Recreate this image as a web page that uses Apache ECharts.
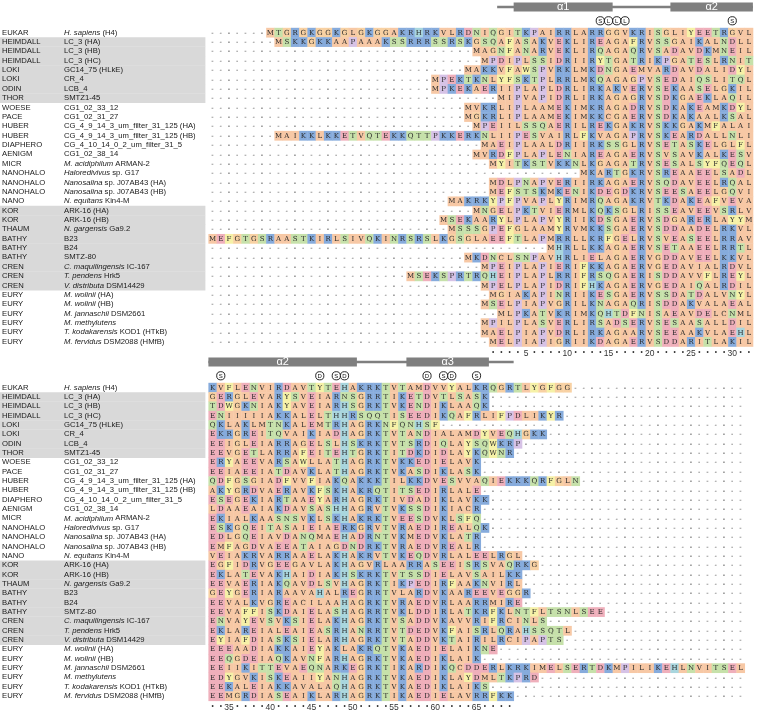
<!DOCTYPE html>
<html><head><meta charset="utf-8">
<script src="https://cdn.jsdelivr.net/npm/echarts@6/dist/echarts.min.js"></script>
<style>html,body{margin:0;padding:0;background:#fff}#c{width:758px;height:713px}</style>
</head><body><div id="c"></div>
<script>
// ---------------- data ----------------
const groups = ['EUKAR','HEIMDALL','HEIMDALL','HEIMDALL','LOKI','LOKI','ODIN','THOR','WOESE','PACE','HUBER','HUBER','DIAPHERO','AENIGM','MICR','NANOHALO','NANOHALO','NANOHALO','NANO','KOR','KOR','THAUM','BATHY','BATHY','BATHY','CREN','CREN','CREN','EURY','EURY','EURY','EURY','EURY','EURY'];
const speciesItalic = ['H. sapiens','','','','','','','','','','','','','','M. acidiphilum','Haloredivivus','Nanosalina','Nanosalina','N. equitans','','','N. gargensis','','','','C. maquilingensis','T. pendens','V. distributa','M. wolinii','M. wolinii','M. jannaschii','M. methylutens','T. kodakarensis','M. fervidus'];
const speciesRest = [' (H4)','LC_3 (HA)','LC_3 (HB)','LC_3 (HC)','GC14_75 (HLkE)','CR_4','LCB_4','SMTZ1-45','CG1_02_33_12','CG1_02_31_27','CG_4_9_14_3_um_filter_31_125 (HA)','CG_4_9_14_3_um_filter_31_125 (HB)','CG_4_10_14_0_2_um_filter_31_5','CG1_02_38_14',' ARMAN-2',' sp. G17',' sp. J07AB43 (HA)',' sp. J07AB43 (HB)',' Kin4-M','ARK-16 (HA)','ARK-16 (HB)',' Ga9.2','B23','B24','SMTZ-80',' IC-167',' Hrk5',' DSM14429',' (HA)',' (HB)',' DSM2661','',' KOD1 (HTkB)',' DSM2088 (HMfB)'];
const grayRows = [1,2,3,4,5,6,7,19,20,21,22,23,24,25,26,27];

// top block: sequences right-aligned to the block end (alignment columns -33 .. 32)
const topSeqs = [
'MTGRGKGGKGLGKGGAKRHRKVLRDNIQGITKPAIRRLARRGGVKRISGLIYEETRGVL',
'MSKKGKKAAPAAAKSSRRRSSRSKGSQAFASAKVEKLIREAGAFRVSSGAIKALNDLL',
'MAGNFANARVEKLIRQAGAQRVSADAVDKMNEIL',
'MPDIPLSSIDRIIRYTGATRIKPGATESLRNIT',
'MAKKVFAWSPVRKLMKDNGAEMVARDAVDALIDYL',
'MPEKTKNLYFSKTPLRRLMKQAGAGPVSEDAIQSLITQL',
'MPKEKAERIIPLAPLDRLIRKAKVERVSEKAASELGKIL',
'MIPVAPIDRLIRKAGAGRVSDKGAEKLAQIL',
'MVKRLIPLAAMEKIMKRAGADRVSDKAKEAMKDYL',
'MGKRLIPLAAMEKIMKKCGAERVSDKAKAALKSAL',
'MPEIILSSQAERILREKGAKRVSKKGAKMFALAI',
'MAIKKLKKETVQTEKKQTTPKKERKNLIIPESVAIRLFKVAGAPRVSKEARDALLNLI',
'MAEIPLAALDRIIRKSSGLRVSETASKELGLFL',
'MVRDFPLAPLENIAREAGAERVSVSAVKALKESV',
'MYITKSTVKKNLKGAGATRVSESALSYFQEQL',
'MKARTGKRVSREAAEELSADL',
'MDLPNAPVERIIRKAGAERVSQDAVEELRQAL',
'MEFSTSKMKENIKDEGDKRVSEESAEELGQVI',
'MAKRKYPFPVAPLYRIMRQAGAKRVTKDAKEAFVEVA',
'MNGELPKTVIERMLKQKSGLRISSEAVEEVSRLV',
'MSEKAARYLPLAPVYRIIKDSGAERVSDGARERLAYYM',
'MSSSGPEFGLAAMYRVMKKSGAERVSDDAADELRKVL',
'MEFGTGSRAASTKIRLSIVQKINRSRSLKGSGLAEEFTLAPMRRLLKRFGELRVSVEASEELRRAV',
'MHRLLKKAGAERVSETAAEELRRTL',
'MKDNCLSNPAVHRLIELAGAERVGDDAVEELKKVL',
'MPEIPLAPIERIFKKAGAERVGEDAVIALRDVL',
'MSEKSPRTRQHEIPLAPLRRIFRSQGAERISDDAVVFLREYL',
'MPELPLAPIDRIFHKAGAERVGEDAIQALRDIL',
'MGIAKAPINRIIKESGAERVSSDATDALVNYL',
'MSELPIAPVGRILKNAGAQRISDDAKVALAEAL',
'MLPKATVKRIMKQHTDFNISAEAVDELCNML',
'MPILPLASVERLIRSADSERVSESAASALLDIL',
'MAELPIAPVDRLIRKAGAARVSEEAAKVLAEHL',
'MELPIAPIGRIIKDAGAERVSDDARITLAKIL'
];
// bottom block: sequences left-aligned to the block start (alignment columns 33 .. 97)
const bottomSeqs = [
'KVFLENVIRDAVTYTEHAKRKTVTAMDVVYALKRQGRTLYGFGG',
'GERGLEVARYSVEIARNSGRRTIKETDVTLSASK',
'TDWGKNIAKYAVEIARHSGRKTVKENDIKLAAQK',
'ENIIIIIAKKALELTHHRSQQTISEEDIKQAFRLIFPDLIKYR',
'QKLAKLMTNKALEMTRHAGRKNFQNHSF',
'EKRGREITQVAIKIADHAGRKTVTANDIALAMDYVEQHGKK',
'EEIGLEIARRAGELSLHSKRKTVTSRDIQLAYSQWKRP',
'EEVGETLARRAFEITEHTGRKTITDKDIDLAYKQWNR',
'ERYAEEVARSAWLLATHAGRKTVKKEDIELAVK',
'EEIAEEIATDAVKLATHAGRKTVKASDIKLASK',
'QDFGSGIADFVVFIAKQAKKKTILKKDVESVVAQIEKKKQRFGLN',
'AKYGRDVAERAVKFSKHAKRQTITSEDIRLALE',
'ESEGEKIARTAAEYARHAGRKTIVDADIKLAVKK',
'LDAAEAIAKDAVSASHHAGRVTVKSSDIKIACR',
'EKIALKAASNSVKLSKHAKRKTVEESDVKLSFQ',
'ESKGQEITASAIEIAERKGRVTVRAEDIREALQK',
'EDLGQEIAVDANQMAEHADRNTVKMEDVKLATR',
'EMFAGDVAEEATAIAGDNDRKTVRAEDVREALR',
'VEIAKRVARRAAELAKHAKRVTVKEQDVRLALEELRGL',
'EGFIDRVGEEGAVLAKHAGVRLAARRASEEISRSVAQRKG',
'EKLATEVAKHAIDIAKHSKRKTVTSSDIELAVSAILKK',
'EEVAERIAKQAVDLSVHAGRKTIKPEDIRFAAKNVIRL',
'GEYGERIARAAVAHALREGRRTVLARDVKAAREEVEGGR',
'EEVALKVGREACILAAHAGRKTVRAEDVRLAARRMIRE',
'EEVAFFISKDAIELASHAGRRTVKLDDIRLATKRFKLNTFLTSNLSEE',
'ENVAYEVSVKSIELAKHAGRKTVSADDVKAVVRIFRCINLS',
'EKLAREIALEAIEASRHANRRTVTDEDVKFAISRLQRAHSSQTL',
'EYIAFDIASKSIELARHAGRKTVTADDVKTAIRILRCIPAPTS',
'EEEAADIAKKAIEYAKLAKRQTVKAEDIELAIKNE',
'EEQGDEIAQKAVNFARHAGRKTVKAEDIKLAIK',
'EEIIKITTEVAEQNARKEGRKTIKARDIKQCDDERLKRKIMELSERTDKMPILIKEHLNVITSEL',
'EDYGVKISKEAIIYANHAGRKTVKAEDIKLAYDMLTKPRD',
'EEKALEIAKKAVALAQHAGRKTVKAEDIKLAIKS',
'EEMGRDIASEAIKLARHAGRKTIKAEDIELAVRRFKK'
];
const topFirstCol = -33, topNCols = 66;
const bottomFirstCol = 33, bottomNCols = 65;
// residue numbering of HMfB shown under the blocks
const numberFrom = 1, numberTo = 69;
// secondary structure (HMfB numbering)
const loopFrom = 2, loopTo = 69;
const helixNames = ['α1', 'α2', 'α3'];
const helixFrom = [4, 23, 57];
const helixTo = [15, 50, 66];
const siteCols = [14, 15, 16, 17, 30, 34, 46, 48, 49, 59, 61, 62, 65];
const siteLetters = ['S', 'L', 'L', 'L', 'S', 'S', 'D', 'S', 'D', 'D', 'S', 'D', 'S'];

// ---------------- styles ----------------
const residueColors = {
  A:'#f7c8a5', V:'#f7c8a5', L:'#f7c8a5', I:'#f7c8a5', M:'#f7c8a5', C:'#f7c8a5', G:'#f8d1a3',
  K:'#86abdc', R:'#86abdc',
  D:'#efafbb', E:'#efafbb',
  S:'#c6e1aa', T:'#c6e1aa', N:'#c6e1aa', Q:'#c6e1aa',
  P:'#d6c2e6',
  F:'#f6f1a7', W:'#f6f1a7', Y:'#f6f1a7',
  H:'#a9d6de'
};
const LABEL_FONT = 'Liberation Sans';
const RES_FONT = 'DejaVu Serif';

const chart = echarts.init(document.getElementById('c'), null, {renderer: 'canvas'});

function buildCells(seqs, n, alignRight) {
  const cells = [];
  seqs.forEach((s, r) => {
    const full = alignRight ? s.padStart(n, '-') : s.padEnd(n, '-');
    for (let i = 0; i < n; i++) cells.push([i, r, full[i]]);
  });
  return cells;
}
const topCells = buildCells(topSeqs, topNCols, true);
const bottomCells = buildCells(bottomSeqs, bottomNCols, false);

function cellRender(cells) {
  return function (params, api) {
    const c = cells[params.dataIndex];
    const p = api.coord([c[0], c[1]]);
    const sz = api.size([1, 1]);
    const ch = c[2];
    const children = [];
    if (ch !== '-') {
      children.push({type: 'rect', shape: {x: p[0] - sz[0] / 2, y: p[1] - sz[1] / 2, width: sz[0] + 0.4, height: sz[1] + 0.4},
        style: {fill: residueColors[ch] || '#eeeeee'}});
    }
    children.push({type: 'text', style: {text: ch, x: p[0], y: p[1] + 0.4, align: 'center', verticalAlign: 'middle',
      fill: ch === '-' ? '#444' : '#2a2a2a', fontSize: 7, fontFamily: RES_FONT}});
    return {type: 'group', children};
  };
}

function grayRender(params, api) {
  const r = api.value(1);
  const p = api.coord([0, r]);
  const sz = api.size([1, 1]);
  return {type: 'rect', shape: {x: 0, y: p[1] - sz[1] / 2, width: p[0] - sz[0] / 2 - 3, height: sz[1] + 0.3},
    style: {fill: '#d9d9d9'}};
}

// header items per block
function headerItems(firstCol, n) {
  const lastCol = firstCol + n - 1;
  const items = [];
  const lf = Math.max(loopFrom, firstCol), lt = Math.min(loopTo, lastCol);
  if (lf <= lt) items.push({kind: 'line', value: [lf - firstCol, 0, lt - firstCol]});
  helixNames.forEach((nm, k) => {
    const a = Math.max(helixFrom[k], firstCol), b = Math.min(helixTo[k], lastCol);
    if (a <= b) items.push({kind: 'helix', name: nm, value: [a - firstCol, 0, b - firstCol]});
  });
  siteCols.forEach((c, k) => {
    if (c >= firstCol && c <= lastCol) items.push({kind: 'site', name: siteLetters[k], value: [c - firstCol, 0, c - firstCol]});
  });
  return items;
}
function headerRender(items) {
  return function (params, api) {
    const it = items[params.dataIndex];
    const p0 = api.coord([api.value(0), 0]);
    const p1 = api.coord([api.value(2), 0]);
    const sz = api.size([1, 1]);
    const x0 = p0[0] - sz[0] / 2, x1 = p1[0] + sz[0] / 2;
    const yBar = p0[1] - 25.5;
    const ySite = p0[1] - 11.7;
    if (it.kind === 'line') {
      return {type: 'rect', shape: {x: x0, y: yBar - 1.2, width: x1 - x0, height: 2.4}, style: {fill: '#7f7f7f'}};
    }
    if (it.kind === 'helix') {
      return {type: 'group', children: [
        {type: 'rect', shape: {x: x0, y: yBar - 4.6, width: x1 - x0, height: 9.2}, style: {fill: '#7f7f7f'}},
        {type: 'text', style: {text: it.name, x: (x0 + x1) / 2, y: yBar - 0.5, align: 'center', verticalAlign: 'middle',
          fill: '#fff', fontSize: 11, fontFamily: LABEL_FONT}}
      ]};
    }
    return {type: 'group', children: [
      {type: 'circle', shape: {cx: p0[0], cy: ySite, r: 4.1}, style: {fill: '#fff', stroke: '#111', lineWidth: 0.9}},
      {type: 'text', style: {text: it.name, x: p0[0], y: ySite + 0.3, align: 'center', verticalAlign: 'middle',
        fill: '#111', fontSize: 6, fontFamily: LABEL_FONT}}
    ]};
  };
}
const topHeader = headerItems(topFirstCol, topNCols);
const bottomHeader = headerItems(bottomFirstCol, bottomNCols);

function colLabels(firstCol, n) {
  const a = [];
  for (let i = 0; i < n; i++) a.push(String(firstCol + i));
  return a;
}
const rowIds = groups.map((g, i) => String(i));

function rowLabel(value, index) {
  const k = Number(value);
  let s = '{g|' + groups[k] + '}';
  if (speciesItalic[k]) s += '{i|' + speciesItalic[k] + '}';
  if (speciesRest[k]) s += '{n|' + speciesRest[k] + '}';
  return s;
}
const LBL = 7.7;
const yLabel = {
  show: true, interval: 0, hideOverlap: false, align: 'left', margin: 206.4, verticalAlign: 'middle', formatter: rowLabel,
  rich: {
    g: {width: 62, fontSize: LBL, fontFamily: LABEL_FONT, color: '#1a1a1a'},
    i: {fontSize: LBL, fontFamily: LABEL_FONT, fontStyle: 'italic', color: '#1a1a1a'},
    n: {fontSize: LBL, fontFamily: LABEL_FONT, color: '#1a1a1a'}
  }
};
const xLabel = {
  show: true, interval: 0, margin: 2.5, hideOverlap: false,
  formatter: function (v) {
    const n = Number(v);
    if (n < numberFrom || n > numberTo) return '';
    return n % 5 === 0 ? '{n|' + n + '}' : '{d|•}';
  },
  rich: {
    n: {fontSize: 8.5, fontFamily: LABEL_FONT, color: '#333'},
    d: {fontSize: 6.5, fontFamily: LABEL_FONT, color: '#333'}
  }
};
function xAxisDef(gi, first, n) {
  return {gridIndex: gi, type: 'category', data: colLabels(first, n), position: 'bottom',
    axisLine: {show: false}, axisTick: {show: false}, splitLine: {show: false}, axisLabel: xLabel};
}
function yAxisDef(gi) {
  return {gridIndex: gi, type: 'category', data: rowIds, inverse: true, z: 10,
    axisLine: {show: false}, axisTick: {show: false}, splitLine: {show: false}, axisLabel: yLabel};
}

const option = {
  animation: false,
  backgroundColor: '#ffffff',
  grid: [
    {left: 208.4, top: 27.8, width: 544.5, height: 318.6, outerBoundsMode: 'none', containLabel: false},
    {left: 208.4, top: 382.8, width: 536.25, height: 317.9, outerBoundsMode: 'none', containLabel: false}
  ],
  xAxis: [xAxisDef(0, topFirstCol, topNCols), xAxisDef(1, bottomFirstCol, bottomNCols)],
  yAxis: [yAxisDef(0), yAxisDef(1)],
  series: [
    {type: 'custom', xAxisIndex: 0, yAxisIndex: 0, z: 1, silent: true, clip: false,
      data: grayRows.map(r => [0, r]), renderItem: grayRender},
    {type: 'custom', xAxisIndex: 1, yAxisIndex: 1, z: 1, silent: true, clip: false,
      data: grayRows.map(r => [0, r]), renderItem: grayRender},
    {type: 'custom', xAxisIndex: 0, yAxisIndex: 0, z: 2, silent: true, clip: false,
      data: topCells.map(c => [c[0], c[1]]), renderItem: cellRender(topCells)},
    {type: 'custom', xAxisIndex: 1, yAxisIndex: 1, z: 2, silent: true, clip: false,
      data: bottomCells.map(c => [c[0], c[1]]), renderItem: cellRender(bottomCells)},
    {type: 'custom', xAxisIndex: 0, yAxisIndex: 0, z: 3, silent: true, clip: false,
      data: topHeader.map(h => h.value), renderItem: headerRender(topHeader)},
    {type: 'custom', xAxisIndex: 1, yAxisIndex: 1, z: 3, silent: true, clip: false,
      data: bottomHeader.map(h => h.value), renderItem: headerRender(bottomHeader)}
  ]
};
chart.setOption(option);
</script>
</body></html>
